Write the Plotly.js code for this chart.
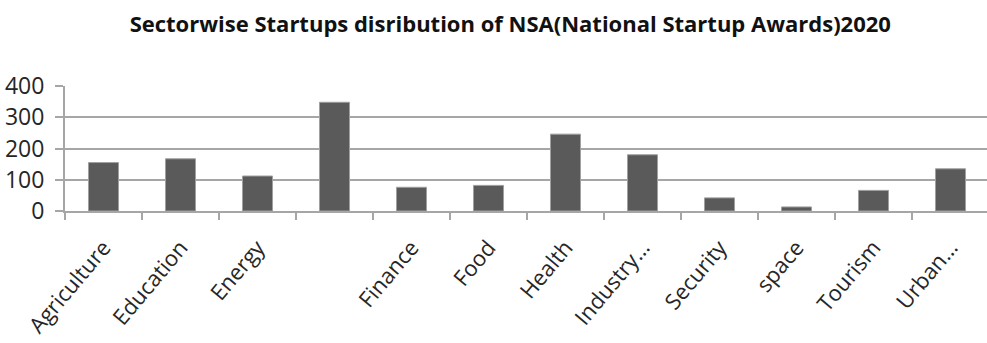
<!DOCTYPE html>
<html><head><meta charset="utf-8">
<script src="https://cdn.plot.ly/plotly-3.0.1.min.js"></script>
<style>html,body{margin:0;padding:0;overflow:hidden;background:#fff}#chart{width:987px;height:343px}</style>
</head><body><div id="chart"></div>
<script>
const sectors = ["Agriculture", "Education", "Energy", " ", "Finance", "Food", "Health", "Industry…", "Security", "space", "Tourism", "Urban…"];
const startups = [155, 167, 112, 348, 76, 82, 246, 180, 42, 13, 66, 135];
const yTicks = [0, 100, 200, 300, 400];
const titleText = "Sectorwise Startups disribution of NSA(National Startup Awards)2020";

const FONT = "Open Sans";
const trace = {
  type: "bar", x: sectors, y: startups,
  marker: {color: "#5a5a5a", line: {color: "#a0a0a0", width: 1}},
  hoverinfo: "x+y"
};
const layout = {
  width: 987, height: 343,
  margin: {l: 65, r: 0, t: 86, b: 132},
  paper_bgcolor: "#fff", plot_bgcolor: "#fff",
  bargap: 0.61,
  showlegend: false,
  title: {text: "<b>" + titleText + "</b>", x: 0.517, xanchor: "center", xref: "container", y: 0.93, yref: "container", yanchor: "middle",
          font: {family: FONT, size: 22, color: "#111"}},
  xaxis: {
    type: "category", range: [-0.5, 11.474],
    showline: true, linecolor: "#a6a6a6", linewidth: 2,
    ticks: "outside", tickson: "boundaries", ticklen: 7, tickcolor: "#a6a6a6", tickwidth: 1.5,
    tickangle: -50, ticklabelstandoff: 13,
    tickfont: {family: FONT, size: 22, color: "#262626"},
    showgrid: false, fixedrange: true
  },
  yaxis: {
    range: [0, 400], tickvals: yTicks, ticktext: yTicks.map(String),
    showline: true, linecolor: "#a6a6a6", linewidth: 2,
    ticks: "outside", ticklen: 8, tickcolor: "#a6a6a6", tickwidth: 2,
    showgrid: true, gridcolor: "#a6a6a6", gridwidth: 2, zeroline: false,
    ticklabelstandoff: 6,
    tickfont: {family: FONT, size: 23, color: "#262626"}, fixedrange: true
  }
};
Plotly.newPlot("chart", [trace], layout, {displayModeBar: false, staticPlot: true});
</script></body></html>
